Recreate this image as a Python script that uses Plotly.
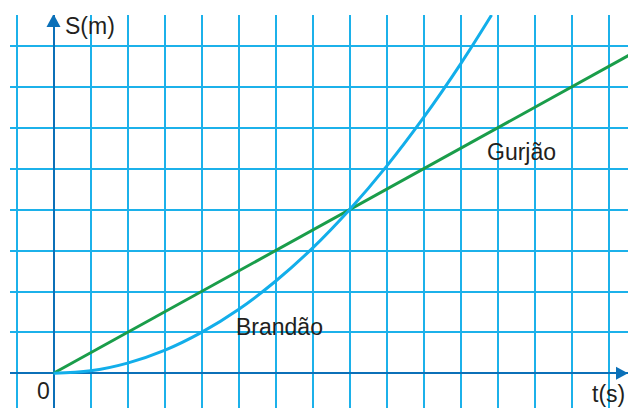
import plotly.graph_objects as go

# data (grid units: 1 square per unit)
t_brandao = [0, 1, 2, 3, 4, 5, 6, 7, 8, 9, 10, 11, 11.84]
s_brandao = [0, 0.06, 0.25, 0.56, 1, 1.56, 2.25, 3.06, 4, 5.06, 6.25, 7.56, 8.76]
t_gurjao = [0, 15.6]
s_gurjao = [0, 7.8]

W, H = 628, 408
X0, Y0 = 53.5, 373.3   # pixel position of the origin
DX, DY = 37.0, 40.9    # pixels per grid square
L, T = 10, 15          # plot area margins


def ux(px):
    return (px - X0) / DX


def vy(py):
    return (Y0 - py) / DY


GRID = "#1cb1ea"
AXIS = "#0b70b8"
TXT = "#231f20"
FONT = "Liberation Sans, Arial, sans-serif"

fig = go.Figure()
fig.add_trace(go.Scatter(x=t_gurjao, y=s_gurjao, mode="lines",
                         line=dict(color="#1a9d4a", width=3)))
fig.add_trace(go.Scatter(x=t_brandao, y=s_brandao, mode="lines", line_shape="spline",
                         line=dict(color="#12aeea", width=3)))

# arrow heads on the axes
fig.add_shape(type="path", xref="x", yref="y", layer="above", line_width=0, fillcolor=AXIS,
              path=f"M {ux(X0-7)},{vy(27)} L {ux(X0+7)},{vy(27)} L 0,{vy(14)} Z")
fig.add_shape(type="path", xref="x", yref="y", layer="above", line_width=0, fillcolor=AXIS,
              path=f"M {ux(616)},{vy(Y0-6.5)} L {ux(616)},{vy(Y0+6.5)} L {ux(628)},0 Z")

labels = [("S(m)", 63, 26, "left"), ("0", 43, 391, "center"), ("t(s)", 627, 394, "right"),
          ("Brandão", 234, 327, "left"), ("Gurjão", 485, 152, "left")]
for text, px, py, anchor in labels:
    fig.add_annotation(x=ux(px), y=vy(py), xref="x", yref="y", text=text, showarrow=False,
                       xanchor=anchor, yanchor="middle",
                       font=dict(family=FONT, size=23, color=TXT))

fig.update_xaxes(range=[ux(L), ux(W)], tick0=0, dtick=1, showticklabels=False, ticks="",
                 showgrid=True, gridcolor=GRID, gridwidth=2,
                 zeroline=True, zerolinecolor=AXIS, zerolinewidth=2, showline=False)
fig.update_yaxes(range=[vy(H), vy(T)], tick0=0, dtick=1, showticklabels=False, ticks="",
                 showgrid=True, gridcolor=GRID, gridwidth=2,
                 zeroline=True, zerolinecolor=AXIS, zerolinewidth=2, showline=False)
fig.update_layout(width=W, height=H, autosize=False, showlegend=False,
                  margin=dict(l=L, r=0, t=T, b=0, pad=0),
                  plot_bgcolor="white", paper_bgcolor="white")

# drop the default page margin so the figure sits at the window's corner
fig.write_html("out.html", config={"displayModeBar": False},
               post_script="document.body.style.margin='0';")
